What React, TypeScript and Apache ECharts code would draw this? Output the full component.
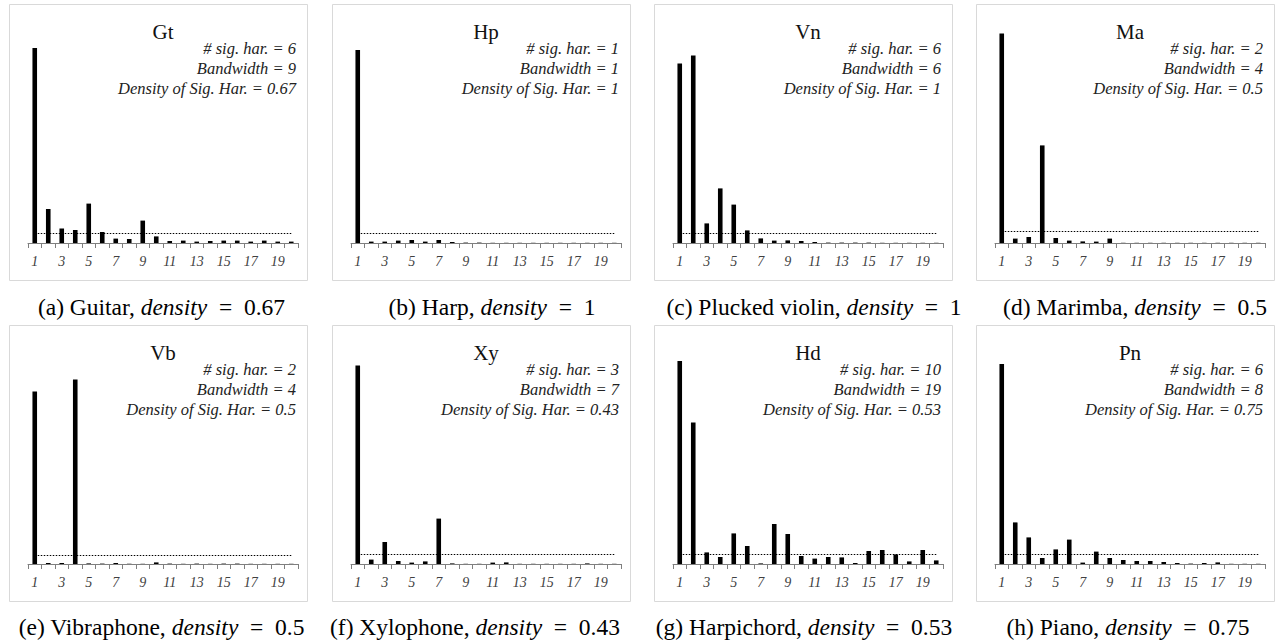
import React, { useEffect, useRef } from "react";
import * as echarts from "echarts";

const harmonics = ["1","2","3","4","5","6","7","8","9","10","11","12","13","14","15","16","17","18","19","20"];

const gtValues = [0.975,0.17,0.072,0.065,0.197,0.055,0.022,0.02,0.112,0.033,0.01,0.012,0.007,0.01,0.012,0.012,0.007,0.012,0.007,0.007];
const hpValues = [0.965,0.007,0.007,0.012,0.015,0.007,0.015,0.005,0.002,0.002,0.001,0.001,0.001,0.001,0.001,0.001,0.001,0.001,0.001,0.001];
const vnValues = [0.898,0.937,0.098,0.273,0.192,0.063,0.023,0.012,0.013,0.01,0.005,0.002,0.002,0.002,0.002,0.001,0.001,0.001,0.001,0.001];
const maValues = [1.048,0.022,0.03,0.488,0.025,0.012,0.008,0.007,0.022,0.001,0.001,0.001,0.001,0.001,0.001,0.001,0.001,0.001,0.001,0.001];
const vbValues = [0.863,0.005,0.005,0.923,0.003,0.002,0.005,0.001,0.001,0.008,0.002,0.001,0.002,0.001,0.002,0.002,0.001,0.001,0.001,0.001];
const xyValues = [0.992,0.022,0.11,0.015,0.007,0.013,0.227,0.003,0.001,0.001,0.007,0.008,0.001,0.001,0.001,0.001,0.001,0.003,0.001,0.001];
const hdValues = [1.015,0.707,0.058,0.035,0.153,0.09,0.003,0.2,0.15,0.04,0.027,0.035,0.033,0.005,0.065,0.07,0.048,0.013,0.07,0.018];
const pnValues = [1.0,0.208,0.133,0.03,0.073,0.122,0.007,0.062,0.03,0.02,0.015,0.015,0.01,0.005,0.002,0.005,0.008,0.001,0.001,0.001];

const panelValues = [gtValues, hpValues, vnValues, maValues, vbValues, xyValues, hdValues, pnValues];
const thresholds = [0.048, 0.05, 0.047, 0.057, 0.043, 0.05, 0.05, 0.05];

const codes = ["Gt", "Hp", "Vn", "Ma", "Vb", "Xy", "Hd", "Pn"];
const sigHar = ["6", "1", "6", "2", "2", "3", "10", "6"];
const bandwidths = ["9", "1", "6", "4", "4", "7", "19", "8"];
const densities = ["0.67", "1", "1", "0.5", "0.5", "0.43", "0.53", "0.75"];
const captionNames = ["(a) Guitar", "(b) Harp", "(c) Plucked violin", "(d) Marimba", "(e) Vibraphone", "(f) Xylophone", "(g) Harpichord", "(h) Piano"];

// layout
const boxLeft = [9, 332, 654, 976];
const rowTop = [4, 325];
const boxW = 298;
const boxH = 276;
const captionCx = [161.5, 492, 814, 1135, 161.5, 475, 804, 1128];
const captionCy = [306.5, 627];

const SERIF = "Liberation Serif";

export default function App() {
  const ref = useRef<HTMLDivElement>(null);
  useEffect(() => {
    document.body.style.margin = "0";
    const chart = echarts.init(ref.current!, null, { renderer: "svg" });
    const grids: any[] = [];
    const xAxes: any[] = [];
    const yAxes: any[] = [];
    const series: any[] = [];
    const graphics: any[] = [];
    panelValues.forEach((vals, i) => {
      const c = i % 4;
      const r = Math.floor(i / 4);
      const bl = boxLeft[c];
      const bt = rowTop[r];
      const axisY = bt + 239;
      grids.push({ left: bl + 19, width: 270, top: axisY - 220, height: 220 });
      xAxes.push({
        type: "category",
        gridIndex: i,
        data: harmonics,
        boundaryGap: true,
        axisLine: { show: true, lineStyle: { color: "#7f7f7f", width: 1 } },
        axisTick: { show: true, interval: 0, length: 5, lineStyle: { color: "#7f7f7f" } },
        axisLabel: {
          interval: 1,
          margin: 11,
          fontFamily: SERIF,
          fontStyle: "italic",
          fontSize: 14,
          color: "#404040",
        },
        splitLine: { show: false },
      });
      yAxes.push({ type: "value", gridIndex: i, min: 0, max: 1.1, show: false });
      series.push({
        type: "bar",
        xAxisIndex: i,
        yAxisIndex: i,
        data: vals,
        barWidth: 4.6,
        itemStyle: { color: "#000" },
        silent: true,
        markLine: {
          silent: true,
          symbol: "none",
          label: { show: false },
          lineStyle: { color: "#000", width: 1.2, type: [1.5, 1.5] },
          data: [[{ coord: [harmonics[0], thresholds[i]] }, { coord: [harmonics[19], thresholds[i]] }]],
        },
      });
      graphics.push({
        type: "rect",
        shape: { x: bl + 0.5, y: bt + 0.5, width: boxW, height: boxH },
        style: { fill: "none", stroke: "#d9d9d9", lineWidth: 1 },
        silent: true,
      });
      graphics.push({
        type: "text",
        x: bl + 154,
        y: bt + 27.5,
        style: { text: codes[i], fontFamily: SERIF, fontSize: 21, fill: "#111", align: "center", verticalAlign: "middle" },
        silent: true,
      });
      const ann = [`# sig. har. = ${sigHar[i]}`, `Bandwidth = ${bandwidths[i]}`, `Density of Sig. Har. = ${densities[i]}`];
      ann.forEach((t, k) => {
        graphics.push({
          type: "text",
          x: bl + 287,
          y: bt + 44.7 + 20 * k,
          style: { text: t, fontFamily: SERIF, fontStyle: "italic", fontSize: 16.5, fill: "#222", align: "right", verticalAlign: "middle" },
          silent: true,
        });
      });
      graphics.push({
        type: "text",
        x: captionCx[i],
        y: captionCy[r],
        style: {
          text: `{n|${captionNames[i]}, }{i|density}{n|\u2002=\u2002${densities[i]}}`,
          align: "center",
          verticalAlign: "middle",
          fill: "#000",
          rich: {
            n: { fontFamily: SERIF, fontSize: 23.5, fill: "#000" },
            i: { fontFamily: SERIF, fontSize: 23.5, fontStyle: "italic", fill: "#000" },
          },
        },
        silent: true,
      });
    });
    chart.setOption({
      animation: false,
      backgroundColor: "#fff",
      grid: grids,
      xAxis: xAxes,
      yAxis: yAxes,
      series,
      graphic: graphics,
    });
    return () => chart.dispose();
  }, []);
  return <div ref={ref} style={{ position: "absolute", left: 0, top: 0, width: 1282, height: 640 }} />;
}
